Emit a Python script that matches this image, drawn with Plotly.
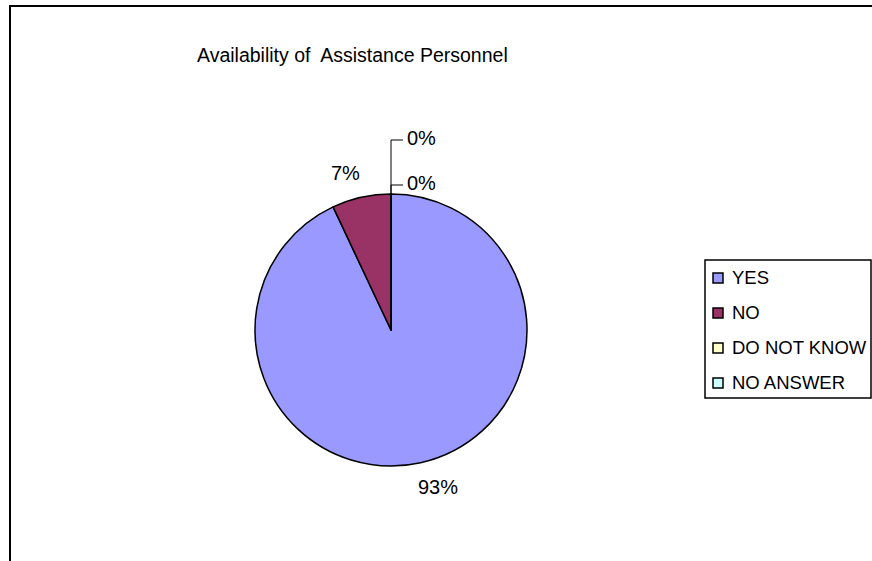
import math
import plotly.graph_objects as go

# Survey answers
labels = ["YES", "NO", "DO NOT KNOW", "NO ANSWER"]
values = [93, 7, 0, 0]
colors = ["#9999FF", "#993366", "#FFFFCC", "#CCFFFF"]
title_text = "Availability of  Assistance Personnel"

W, H = 872, 561
FONT = "Arial, Liberation Sans, sans-serif"

# pie geometry in pixels
CX, CY, R = 391, 330, 136


def px(x):
    return x / W


def py(y):
    return 1 - y / H


fig = go.Figure(
    go.Pie(
        labels=labels,
        values=values,
        marker=dict(colors=colors, line=dict(color="black", width=1.5)),
        sort=False,
        direction="clockwise",
        rotation=0,
        textinfo="none",
        hoverinfo="label+percent",
        showlegend=False,
        domain=dict(x=[px(CX - R), px(CX + R)], y=[py(CY + R), py(CY - R)]),
    )
)

annotations = []
shapes = []

# outer chart frame (runs past the right and bottom edges)
shapes.append(dict(type="rect", xref="paper", yref="paper",
                   x0=px(10), x1=px(W + 20), y0=py(6), y1=py(H + 20),
                   line=dict(color="black", width=2), fillcolor="rgba(0,0,0,0)"))

# title
annotations.append(dict(text=title_text, xref="paper", yref="paper",
                        x=px(195), y=py(55), xanchor="left", yanchor="middle",
                        showarrow=False, font=dict(family=FONT, size=19.5, color="black")))

# percentage labels
total = sum(values)
start = 0.0
zero_rank = 0
for lab, v in zip(labels, values):
    share = v / total
    pct = f"{round(share * 100)}%"
    if v > 0:
        mid = (start + share / 2) * 2 * math.pi
        rl = R * 1.18
        sx = math.sin(mid)
        lx = CX + rl * sx + (12 if sx > 0 else -10)
        ly = CY - rl * math.cos(mid)
        annotations.append(dict(text=pct, xref="paper", yref="paper",
                                x=px(lx), y=py(ly), xanchor="center", yanchor="middle",
                                showarrow=False, font=dict(family=FONT, size=20, color="black")))
    else:
        # zero slices sit at the top edge; labels stacked with leader lines
        ly = CY - R - 10 - 45 * zero_rank
        ly_ld = ly + 1
        shapes.append(dict(type="line", xref="paper", yref="paper",
                           x0=px(CX), x1=px(CX), y0=py(CY - R), y1=py(ly_ld),
                           line=dict(color="black", width=1)))
        shapes.append(dict(type="line", xref="paper", yref="paper",
                           x0=px(CX), x1=px(CX + 12), y0=py(ly_ld), y1=py(ly_ld),
                           line=dict(color="black", width=1)))
        annotations.append(dict(text=pct, xref="paper", yref="paper",
                                x=px(CX + 14), y=py(ly - 1), xanchor="left", yanchor="middle",
                                showarrow=False, font=dict(family=FONT, size=20, color="black")))
        zero_rank += 1
    start += share

# legend box
LX0, LX1, LY0, LY1 = 705, 871, 260, 398
shapes.append(dict(type="rect", xref="paper", yref="paper",
                   x0=px(LX0), x1=px(LX1), y0=py(LY0), y1=py(LY1),
                   line=dict(color="black", width=1.5), fillcolor="white"))
row0, step, sq = 278, 35, 10
for i, (lab, col) in enumerate(zip(labels, colors)):
    yc = row0 + i * step
    shapes.append(dict(type="rect", xref="paper", yref="paper",
                       x0=px(713), x1=px(713 + sq), y0=py(yc - sq / 2), y1=py(yc + sq / 2),
                       line=dict(color="black", width=1.5), fillcolor=col))
    annotations.append(dict(text=lab, xref="paper", yref="paper",
                            x=px(730), y=py(yc - 1), xanchor="left", yanchor="middle",
                            showarrow=False, font=dict(family=FONT, size=18.5, color="black")))

fig.update_layout(
    width=W, height=H,
    margin=dict(l=0, r=0, t=0, b=0),
    paper_bgcolor="white", plot_bgcolor="white",
    annotations=annotations, shapes=shapes,
    showlegend=False,
)

fig.write_html("out.html")
